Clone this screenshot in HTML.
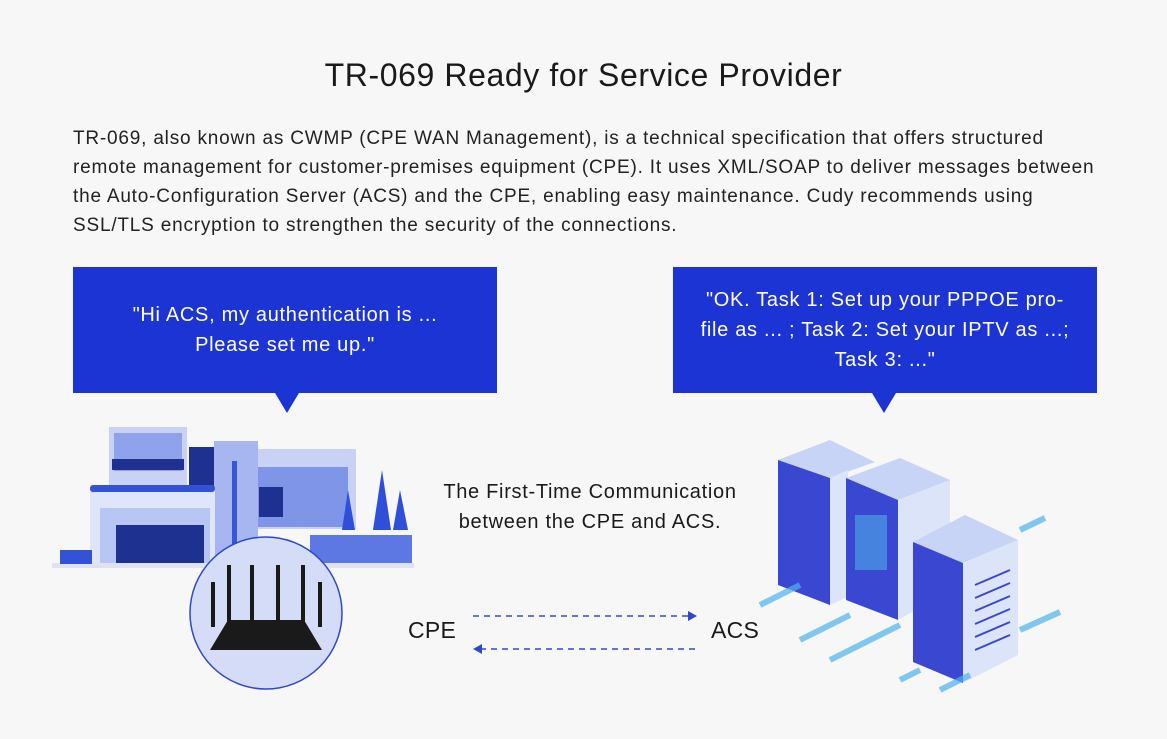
<!DOCTYPE html>
<html><head><style>
body{margin:0;width:1167px;height:739px;background:#f7f7f8;font-family:"Liberation Sans",sans-serif;overflow:hidden;position:relative;color:#1a1a1a}
.t{position:absolute;left:0;width:1167px;text-align:center;top:57px;font-size:32px;letter-spacing:0.6px}
.p{position:absolute;left:73px;top:124px;width:1090px;font-size:19px;letter-spacing:0.8px;line-height:29px;color:#222;white-space:nowrap}
.b{position:absolute;top:267px;width:424px;height:126px;background:#1c34d4;color:#fff;font-size:20px;letter-spacing:0.7px;line-height:30px;text-align:center;display:flex;align-items:center;justify-content:center;white-space:nowrap}
.b:after{content:"";position:absolute;top:126px;border:12px solid transparent;border-top:20px solid #1c34d4;border-bottom:0}
.c{position:absolute;left:340px;width:500px;text-align:center;top:477px;font-size:20px;letter-spacing:0.7px;line-height:30px}
.l{position:absolute;font-size:23px;top:617px;letter-spacing:0.3px}
</style></head><body>
<div class="t">TR-069 Ready for Service Provider</div>
<div class="p">TR-069, also known as CWMP (CPE WAN Management), is a technical specification that offers structured<br>remote management for customer-premises equipment (CPE). It uses XML/SOAP to deliver messages between<br>the Auto-Configuration Server (ACS) and the CPE, enabling easy maintenance. Cudy recommends using<br>SSL/TLS encryption to strengthen the security of the connections.</div>
<div class="b" style="left:73px"><div>"Hi ACS, my authentication is ...<br>Please set me up."</div></div>
<style>.b:nth-of-type(3):after{left:202px}.b:nth-of-type(4):after{left:199px}</style>
<div class="b" style="left:673px"><div>"OK. Task 1: Set up your PPPOE pro-<br>file as ... ; Task 2: Set your IPTV as ...;<br>Task 3: ..."</div></div>
<div class="c">The First-Time Communication<br>between the CPE and ACS.</div>
<div class="l" style="left:408px">CPE</div>
<div class="l" style="left:711px">ACS</div>
<svg width="1167" height="739" style="position:absolute;left:0;top:0">
<g stroke="#3048c8" stroke-width="1.5" stroke-dasharray="6,5" fill="none">
<line x1="473" y1="616" x2="690" y2="616"/><line x1="480" y1="649" x2="697" y2="649"/></g>
<polygon points="697,616 688,611 688,621" fill="#3048c8"/>
<polygon points="473,649 482,644 482,654" fill="#3048c8"/>
<rect x="52" y="563" width="362" height="5" fill="#dde2f5"/>
<rect x="109" y="427" width="78" height="60" fill="#c9d2f5"/>
<rect x="114" y="433" width="68" height="38" fill="#8fa3ec"/>
<rect x="112" y="459" width="72" height="11" fill="#1e3191"/>
<rect x="189" y="447" width="25" height="40" fill="#1e3191"/>
<rect x="214" y="441" width="44" height="122" fill="#a7b6f0"/>
<rect x="232" y="461" width="5" height="100" fill="#3a56d8"/>
<rect x="258" y="449" width="98" height="80" fill="#c9d2f5"/>
<rect x="258" y="467" width="90" height="60" fill="#7f95e8"/>
<rect x="259" y="487" width="24" height="30" fill="#1e3191"/>
<rect x="90" y="487" width="125" height="76" fill="#dfe5fa"/>
<rect x="90" y="485" width="125" height="7" rx="3" fill="#3552d6"/>
<rect x="100" y="508" width="110" height="55" fill="#b8c6f3"/>
<rect x="116" y="525" width="88" height="38" fill="#1e3191"/>
<rect x="310" y="535" width="102" height="28" fill="#5d77e3"/>
<rect x="60" y="550" width="32" height="14" fill="#3552d6"/>
<polygon points="382,470 373,530 391,530" fill="#2f4fd8"/>
<polygon points="400,490 393,530 408,530" fill="#2f4fd8"/>
<polygon points="348,490 342,530 355,530" fill="#2f4fd8"/>
<circle cx="266" cy="613" r="76" fill="#d5dcf7" stroke="#2f47c8" stroke-width="1.5"/>
<g fill="#1a1a1a">
<rect x="211" y="582" width="4" height="45"/><rect x="227" y="565" width="4" height="60"/><rect x="250" y="565" width="4" height="60"/><rect x="276" y="565" width="4" height="60"/><rect x="301" y="565" width="4" height="60"/><rect x="318" y="582" width="4" height="45"/>
<polygon points="210,650 228,620 304,620 322,650"/></g>
<g>
<polygon points="778,460 830,440 875,462 830,478" fill="#c8d4f5"/>
<polygon points="778,460 830,478 830,605 778,585" fill="#3a47d0"/>
<polygon points="830,478 848,470 848,597 830,605" fill="#dce4fa"/>
<polygon points="846,478 900,458 950,480 898,500" fill="#c8d4f5"/>
<polygon points="846,478 898,500 898,620 846,600" fill="#3a47d0"/>
<polygon points="898,500 950,480 950,590 898,620" fill="#dce4fa"/>
<rect x="855" y="515" width="32" height="55" fill="#4fc0ee" opacity=".5"/>
<polygon points="913,542 965,515 1018,540 963,563" fill="#c8d4f5"/>
<polygon points="913,542 963,563 963,683 913,662" fill="#3a47d0"/>
<polygon points="963,563 1018,540 1018,655 963,683" fill="#dce4fa"/>
<g stroke="#3a47d0" stroke-width="2"><line x1="975" y1="585" x2="1010" y2="570"/><line x1="975" y1="598" x2="1010" y2="583"/><line x1="975" y1="611" x2="1010" y2="596"/><line x1="975" y1="624" x2="1010" y2="609"/><line x1="975" y1="637" x2="1010" y2="622"/><line x1="975" y1="650" x2="1010" y2="635"/></g>
<g stroke="#4fb4ee" stroke-width="6" opacity=".7"><line x1="760" y1="605" x2="800" y2="585"/><line x1="800" y1="640" x2="850" y2="615"/><line x1="830" y1="660" x2="900" y2="625"/><line x1="900" y1="680" x2="920" y2="670"/><line x1="940" y1="690" x2="970" y2="675"/><line x1="1020" y1="530" x2="1045" y2="518"/><line x1="1020" y1="630" x2="1060" y2="612"/></g>
</g>
</svg>
</body></html>
